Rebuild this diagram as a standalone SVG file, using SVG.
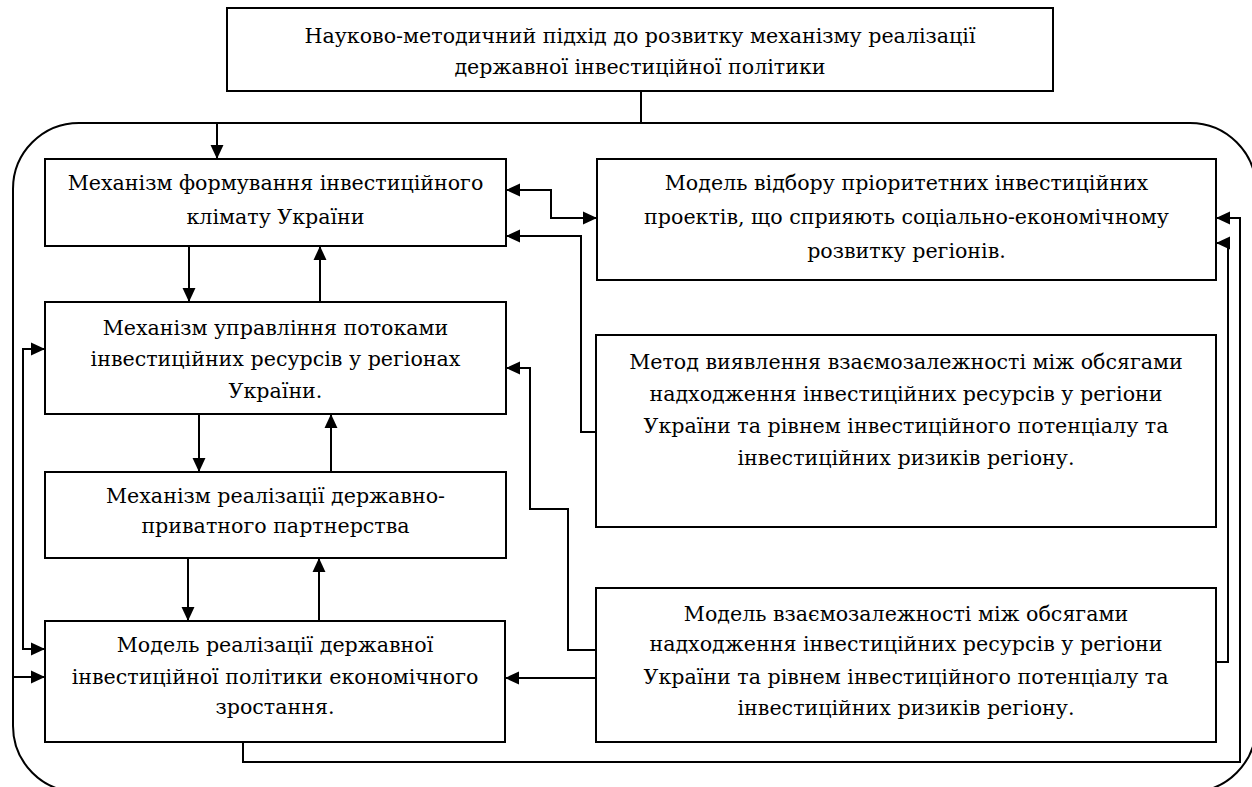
<svg xmlns="http://www.w3.org/2000/svg" width="1252" height="787" viewBox="0 0 1252 787">
<style>
.box{fill:#fff;stroke:#000;stroke-width:2}
.cont{fill:none;stroke:#000;stroke-width:2}
.t{font-family:"DejaVu Serif","Liberation Serif",serif;font-size:20.6px;fill:#000;text-anchor:middle}
.c{fill:none;stroke:#000;stroke-width:2}
.a{marker-end:url(#ah)}
.b{marker-start:url(#ah);marker-end:url(#ah)}
</style>
<defs>
<marker id="ah" markerUnits="userSpaceOnUse" markerWidth="14" markerHeight="14" viewBox="0 0 13 12" refX="13" refY="6" orient="auto-start-reverse">
<path d="M0,0 L13,6 L0,12 z" fill="#000"/>
</marker>
</defs>
<rect class="cont" x="13" y="123" width="1243" height="669" rx="66" ry="66"/>
<g id="top">
<rect class="box" x="227" y="8" width="826" height="83"/>
<text class="t" x="640" y="43">Науково-методичний підхід до розвитку механізму реалізації</text>
<text class="t" x="640" y="74">державної інвестиційної політики</text>
</g>
<g id="n1">
<rect class="box" x="45" y="159" width="461" height="87"/>
<text class="t" x="275.5" y="190">Механізм формування інвестиційного</text>
<text class="t" x="275.5" y="224">клімату України</text>
</g>
<g id="n2">
<rect class="box" x="45" y="302" width="461" height="112"/>
<text class="t" x="275.5" y="335">Механізм управління потоками</text>
<text class="t" x="275.5" y="366">інвестиційних ресурсів у регіонах</text>
<text class="t" x="275.5" y="398">України.</text>
</g>
<g id="n3">
<rect class="box" x="45" y="472" width="461" height="86"/>
<text class="t" x="275.5" y="503">Механізм реалізації державно-</text>
<text class="t" x="275.5" y="533">приватного партнерства</text>
</g>
<g id="n4">
<rect class="box" x="45" y="621" width="460" height="121"/>
<text class="t" x="275" y="652">Модель реалізації державної</text>
<text class="t" x="275" y="684">інвестиційної політики економічного</text>
<text class="t" x="275" y="714">зростання.</text>
</g>
<g id="n5">
<rect class="box" x="597" y="159" width="619" height="121"/>
<text class="t" x="906.5" y="190">Модель відбору пріоритетних інвестиційних</text>
<text class="t" x="906.5" y="224">проектів, що сприяють соціально-економічному</text>
<text class="t" x="906.5" y="258">розвитку регіонів.</text>
</g>
<g id="n6">
<rect class="box" x="596" y="335" width="620" height="192"/>
<text class="t" x="906" y="369">Метод виявлення взаємозалежності між обсягами</text>
<text class="t" x="906" y="401">надходження інвестиційних ресурсів у регіони</text>
<text class="t" x="906" y="433">України та рівнем інвестиційного потенціалу та</text>
<text class="t" x="906" y="465">інвестиційних ризиків регіону.</text>
</g>
<g id="n7">
<rect class="box" x="596" y="588" width="620" height="154"/>
<text class="t" x="906" y="621">Модель взаємозалежності між обсягами</text>
<text class="t" x="906" y="651">надходження інвестиційних ресурсів у регіони</text>
<text class="t" x="906" y="684">України та рівнем інвестиційного потенціалу та</text>
<text class="t" x="906" y="715">інвестиційних ризиків регіону.</text>
</g>
<g id="connectors">
<path class="c" d="M641,91 V123"/>
<path class="c a" d="M217,123 V159"/>
<path class="c a" d="M189,246 V302"/>
<path class="c a" d="M320,302 V246"/>
<path class="c a" d="M199,414 V472"/>
<path class="c a" d="M331,472 V414"/>
<path class="c a" d="M188,558 V621"/>
<path class="c a" d="M319,621 V558"/>
<path class="c b" d="M45,349 H23 V649 H45"/>
<path class="c a" d="M13,677 H45"/>
<path class="c b" d="M506,190 H551 V218 H597"/>
<path class="c a" d="M596,432 H581 V236 H506"/>
<path class="c a" d="M596,650 H568 V509 H530 V368 H506"/>
<path class="c a" d="M596,678 H505"/>
<path class="c a" d="M1216,662 H1228 V243 H1216"/>
<path class="c a" d="M243,742 V762 H1240 V218 H1216"/>
</g>
</svg>
